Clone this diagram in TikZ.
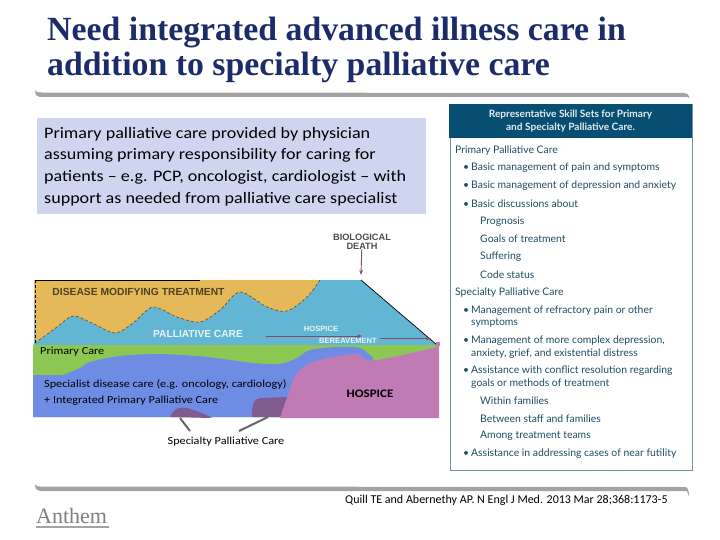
\documentclass[tikz,border=0pt]{standalone}
\usepackage{fontspec}
\setmainfont{Carlito}
\newfontfamily\widefont[FakeStretch=1.13,Ligatures=TeX]{Carlito}
\newfontfamily\titlefont{Liberation Serif}
\newfontfamily\panelfont{Lato}
\newfontfamily\capsfont{Liberation Sans}
\usetikzlibrary{arrows.meta}
\definecolor{titleblue}{HTML}{1C2B69}
\definecolor{rulegrey}{HTML}{A3A3A3}
\definecolor{introfill}{HTML}{CFD5EE}
\definecolor{yellowband}{HTML}{E5B95A}
\definecolor{tealband}{HTML}{62B5D3}
\definecolor{greenband}{HTML}{8CC653}
\definecolor{blueband}{HTML}{6F8CE4}
\definecolor{pinkband}{HTML}{C07AB4}
\definecolor{purpleband}{HTML}{7F5B90}
\definecolor{paneldark}{HTML}{064F73}
\definecolor{panelline}{HTML}{6F929F}
\definecolor{paneltext}{HTML}{1E4C63}
\definecolor{arrowred}{HTML}{8A4A62}
\tikzset{
  chartlabel/.style={inner sep=0pt, font=\widefont\fontsize{10.8}{12.5}\selectfont, text=black},
  capslabel/.style={inner sep=0pt, align=center},
  panelhead/.style={anchor=west, inner sep=0pt, text=paneltext, font=\panelfont\fontsize{10.4}{12}\selectfont},
  panelwrap/.style={panelhead, align=left, font=\panelfont\fontsize{10.4}{12.6}\selectfont},
  timearrow/.style={draw=arrowred, line width=0.9pt, -{Stealth[length=5pt]}},
  greyleader/.style={draw=black!60, line width=2pt}
}
\newcommand{\panelitem}[1]{\makebox[8pt][l]{\textbullet}#1}
\begin{document}
\begin{tikzpicture}[x=1pt,y=-1pt]
\useasboundingbox (0,0) rectangle (720,540);
% title and rules
\node[anchor=west, inner sep=0pt, align=left, text=titleblue, font=\titlefont\bfseries\fontsize{33.8}{35}\selectfont] (title) at (47,50) {Need integrated advanced illness care in\\addition to specialty palliative care};
\fill[rulegrey] (35,90) .. controls (36,92) and (37,92.5) .. (40,92.5) -- (684,93) .. controls (687,93) and (689,94) .. (689,98) -- (687,97) -- (40,97) .. controls (37,97) and (35,95) .. (35,90) -- cycle;
\fill[rulegrey] (35,484) .. controls (36,486) and (37,486.5) .. (40,486.5) -- (684,487) .. controls (687,487) and (689,488) .. (689,497) -- (687,491) -- (40,491) .. controls (37,491) and (35,489) .. (35,484) -- cycle;

% intro box
\node[anchor=north west, fill=introfill, minimum width=389pt, minimum height=96pt, inner sep=0pt] (introbox) at (37,118) {};
\node[anchor=west, inner sep=0pt, align=left, font=\widefont\fontsize{16}{21.7}\selectfont] (introtext) at (44,166.5) {Primary palliative care provided by physician\\assuming primary responsibility for caring for\\patients -- e.g. PCP, oncologist, cardiologist -- with\\support as needed from palliative care specialist};

% chart bands
\fill[tealband] (34,280) -- (361,280) -- (437,345) -- (34,345) -- cycle;
\fill[yellowband] (34,280) -- (320,280) -- plot[smooth] coordinates {(320,280) (307,297) (287,311) (267,307) (240,292) (220,310) (200,322) (177,317) (153,307) (133,323) (115,333) (92,323) (73,316) (57,327) (35,343)} -- cycle;
\draw[densely dashed, draw=black!60!yellowband, line width=0.6pt] plot[smooth] coordinates {(320,280) (307,297) (287,311) (267,307) (240,292) (220,310) (200,322) (177,317) (153,307) (133,323) (115,333) (92,323) (73,316) (57,327) (35,343)};
\draw[densely dashed, line width=0.8pt] (35,280) -- (35,343);
\draw[line width=0.6pt] (35,280) -- (200,280);
\draw[line width=0.7pt] (361,280) -- (437,345);
\fill[greenband] (33,345) -- (437,345) -- (439,417) -- (33,417) -- cycle;
\fill[blueband] (33,375) -- (63,375) -- plot[smooth] coordinates {(63,375) (80,368) (90,362) (120,356) (160,354) (207,357) (253,363) (280,364) (297,358) (310,350) (337,347) (360,348) (373,358)} -- (373,417) -- (33,417) -- cycle;
\fill[pinkband] (280,418) -- plot[smooth] coordinates {(280,418) (287,397) (297,373) (313,362) (340,356) (357,354) (367,360) (377,360) (403,355) (437,347)} -- (439,343) -- (439,418) -- cycle;
\fill[purpleband] (252,417) .. controls (252,405) and (253,398) .. (262,398) -- (287,397) -- (280,417) -- cycle;
\fill[purpleband] (170,417) .. controls (174,408) and (178,407) .. (187,408) .. controls (195,410) and (205,414) .. (212,418) -- cycle;
\coordinate (humpleft) at (180,418);
\coordinate (humpright) at (268,417);

% chart labels
\node[capslabel, text=black!70, font=\capsfont\bfseries\fontsize{9.2}{9}\selectfont] (deathlabel) at (362,241.5) {BIOLOGICAL\\DEATH};
\coordinate (deathpoint) at (361,275);
\draw[timearrow] (deathlabel) -- (deathpoint);
\node[capslabel, text=black!65!yellowband, font=\capsfont\bfseries\fontsize{10.3}{11}\selectfont] (diseaselabel) at (138.5,292) {DISEASE MODIFYING TREATMENT};
\node[capslabel, text=white!85!tealband, font=\capsfont\bfseries\fontsize{10.2}{11}\selectfont] (palliativelabel) at (198,334) {PALLIATIVE CARE};
\node[capslabel, text=white!85!tealband, font=\capsfont\bfseries\fontsize{7.6}{8}\selectfont] (hospicesmall) at (321,329) {HOSPICE};
\node[capslabel, text=white!85!tealband, font=\capsfont\bfseries\fontsize{7.6}{8}\selectfont] (bereavement) at (348,341) {BEREAVEMENT};
\coordinate (hospicestart) at (266,336);
\coordinate (hospiceend) at (362,336);
\coordinate (bereavestart) at (380,338.5);
\coordinate (bereaveend) at (431,338.5);
\draw[timearrow] (hospicestart) -- (hospiceend);
\draw[timearrow] (bereavestart) -- (bereaveend);
\node[fill=pinkband, minimum size=4pt, inner sep=0pt] (tipmark) at (438,344) {};

\node[chartlabel, anchor=west] (primarycare) at (40,352) {Primary Care};
\node[chartlabel, anchor=west, align=left, font=\widefont\fontsize{10.8}{15.5}\selectfont] (specialist) at (44,392.5) {Specialist disease care (e.g. oncology, cardiology)\\+ Integrated Primary Palliative Care};
\node[chartlabel, font=\widefont\bfseries\fontsize{11.5}{14}\selectfont] (hospicelabel) at (370,393.5) {HOSPICE};
\node[chartlabel] (specialtylabel) at (226,441.5) {Specialty Palliative Care};
\coordinate (leaderleft) at (190,431);
\coordinate (leaderright) at (239,431);
\draw[greyleader] (leaderleft) -- (humpleft);
\draw[greyleader] (leaderright) -- (humpright);

% skill sets panel
\node[anchor=north west, draw=panelline, line width=1pt, minimum width=242pt, minimum height=366pt, inner sep=0pt] (panelbox) at (449.5,104) {};
\node[anchor=north west, fill=paneldark, minimum width=243pt, minimum height=34pt, inner sep=0pt] (panelbar) at (449,104) {};
\node[align=center, inner sep=0pt, text=white!90!paneldark, font=\panelfont\bfseries\fontsize{10.1}{12.5}\selectfont] (paneltitle) at (570.5,121) {Representative Skill Sets for Primary\\and Specialty Palliative Care.};
\node[panelhead] (headprimary) at (455,150.5) {Primary Palliative Care};
\node[panelhead] (pone) at (463,168) {\panelitem{Basic management of pain and symptoms}};
\node[panelhead] (ptwo) at (463,186) {\panelitem{Basic management of depression and anxiety}};
\node[panelhead] (pthree) at (463,203.5) {\panelitem{Basic discussions about}};
\node[panelhead] (prognosis) at (480,221.5) {Prognosis};
\node[panelhead] (goals) at (480,239) {Goals of treatment};
\node[panelhead] (suffering) at (480,257) {Suffering};
\node[panelhead] (codestatus) at (480,274.5) {Code status};
\node[panelhead] (headspecialty) at (455,292.5) {Specialty Palliative Care};
\node[panelwrap] (sone) at (463,316.5) {\panelitem{Management of refractory pain or other}\\\hspace*{8pt}symptoms};
\node[panelwrap] (stwo) at (463,347) {\panelitem{Management of more complex depression,}\\\hspace*{8pt}anxiety, grief, and existential distress};
\node[panelwrap] (sthree) at (463,377) {\panelitem{Assistance with conflict resolution regarding}\\\hspace*{8pt}goals or methods of treatment};
\node[panelhead] (families) at (480,400.5) {Within families};
\node[panelhead] (staff) at (480,418.5) {Between staff and families};
\node[panelhead] (teams) at (480,436) {Among treatment teams};
\node[panelhead] (sfour) at (463,454) {\panelitem{Assistance in addressing cases of near futility}};

% footer
\node[anchor=west, inner sep=0pt, font=\fontsize{12}{14}\selectfont] (citation) at (345,500.5) {Quill TE and Abernethy AP. N Engl J Med. 2013 Mar 28;368:1173-5};
\node[anchor=west, inner sep=0pt, text=black!50, font=\titlefont\fontsize{22}{24}\selectfont] (anthem) at (36,515.5) {Anthem{\fontsize{6}{6}\selectfont .}};
\fill[rulegrey] (36,525.5) rectangle (109,527.5);
\end{tikzpicture}
\end{document}
